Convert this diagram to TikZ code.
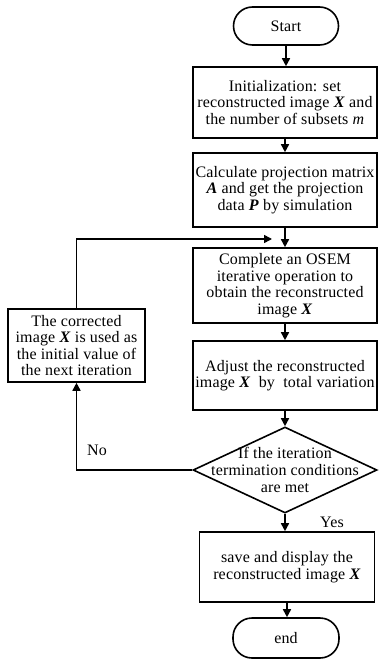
\documentclass[tikz,border=0pt]{standalone}
\usepackage{fontspec}
\setmainfont[LetterSpace=1]{Liberation Serif}
\usetikzlibrary{arrows.meta,shapes.geometric}
\newcommand{\bx}[1]{\textbf{\textit{#1}}}
\begin{document}
\begin{tikzpicture}[x=1pt,y=-1pt,
  every node/.style={font=\fontsize{16}{16.6}\selectfont},
  proc/.style={draw,line width=1.6pt,rectangle,align=center,inner sep=0pt,
    minimum width=184pt},
  term/.style={draw,line width=1.6pt,rectangle,rounded corners=19pt,
    align=center,inner sep=0pt},
  dec/.style={draw,line width=1.6pt,diamond,inner sep=0pt,
    minimum width=184pt,minimum height=86pt},
  flow/.style={line width=1.6pt,-{Triangle[length=8pt,width=8pt]}},
  lbl/.style={inner sep=0pt}]
\useasboundingbox (0,0) rectangle (378,660);

\node[term,minimum width=105pt,minimum height=38pt] (start) at (286,26) {Start};
\node[proc,minimum height=71pt] (init) at (285,102.5)
  {Initialization: set\\reconstructed image \bx{X} and\\the number of subsets \textit{m}};
\node[proc,minimum height=74pt] (calc) at (285,190)
  {Calculate projection matrix\\\bx{A} and get the projection\\data \bx{P} by simulation};
\node[proc,minimum height=75pt] (osem) at (285,285.5)
  {Complete an OSEM\\iterative operation to\\obtain the reconstructed\\image \bx{X}};
\node[proc,minimum height=69pt] (tv) at (285,375.5)
  {Adjust the reconstructed\\image \bx{X}\ \ by\ \ total variation};
\node[proc,minimum width=137pt,minimum height=73pt] (corr) at (76.5,345.5)
  {The corrected\\image \bx{X} is used as\\the initial value of\\the next iteration};
\node[dec] (cond) at (285,470) {};
\node[align=center,inner sep=0pt] at (cond.center)
  {If the iteration\\termination conditions\\are met};
\node[proc,minimum width=175pt,minimum height=70pt] (save) at (287,567)
  {save and display the\\reconstructed image \bx{X}};
\node[term,minimum width=106pt,minimum height=40pt] (end) at (286,638) {end};

\coordinate (back) at (76.5,239);
\coordinate (feed) at (272,239);

\draw[flow] (start) -- (start|-init.north);
\draw[flow] (init) -- (init|-calc.north);
\draw[flow] (calc) -- (osem);
\draw[flow] (osem) -- (tv);
\draw[flow] (tv) -- (cond);
\draw[flow] (cond.south) -- (cond.south|-save.north);
\draw[flow] (save) -- (save.south|-end.north);
\draw[flow] (corr.north) -- (back) -- (feed);
\draw[flow] (cond.west) -| (corr.south);

\node[lbl] at (97,450) {No};
\node[lbl] at (332,522) {Yes};
\end{tikzpicture}
\end{document}
